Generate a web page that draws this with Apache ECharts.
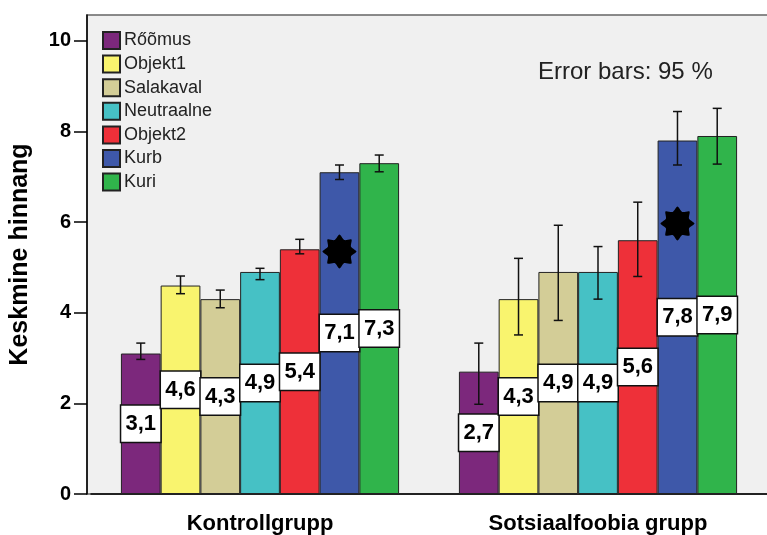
<!DOCTYPE html>
<html>
<head>
<meta charset="utf-8">
<script src="https://cdn.jsdelivr.net/npm/echarts@6/dist/echarts.min.js"></script>
<style>
  html, body { margin: 0; padding: 0; background: #ffffff; }
  #chart { width: 767px; height: 535px; }
</style>
</head>
<body>
<div id="chart"></div>
<script>
// Groups on the x axis
const groups = ['Kontrollgrupp', 'Sotsiaalfoobia grupp'];

// Emotion categories (one bar series each)
const emotions = ['Rőõmus', 'Objekt1', 'Salakaval', 'Neutraalne', 'Objekt2', 'Kurb', 'Kuri'];
const colors = ['#7c287c', '#f9f46e', '#d3cd97', '#46c1c5', '#ee3039', '#3e58a9', '#30b44b'];

// Mean rating per emotion: [Kontrollgrupp, Sotsiaalfoobia grupp]
const meanRoomus     = [3.1, 2.7];
const meanObjekt1    = [4.6, 4.3];
const meanSalakaval  = [4.3, 4.9];
const meanNeutraalne = [4.9, 4.9];
const meanObjekt2    = [5.4, 5.6];
const meanKurb       = [7.1, 7.8];
const meanKuri       = [7.3, 7.9];
const means = [meanRoomus, meanObjekt1, meanSalakaval, meanNeutraalne, meanObjekt2, meanKurb, meanKuri];

// 95 % confidence interval bounds: [low, high] per group
const ciRoomus     = [[2.97, 3.33], [1.98, 3.33]];
const ciObjekt1    = [[4.42, 4.81], [3.51, 5.20]];
const ciSalakaval  = [[4.11, 4.50], [3.83, 5.93]];
const ciNeutraalne = [[4.73, 4.98], [4.30, 5.46]];
const ciObjekt2    = [[5.30, 5.62], [4.80, 6.44]];
const ciKurb       = [[6.94, 7.26], [7.26, 8.44]];
const ciKuri       = [[7.11, 7.48], [7.28, 8.51]];
const cis = [ciRoomus, ciObjekt1, ciSalakaval, ciNeutraalne, ciObjekt2, ciKurb, ciKuri];

// Star markers on the Kurb bars: [group index, emotion index, value]
const starMarks = [[0, 5, 5.35], [1, 5, 5.97]];

// Y axis tick labels
const yTicks = [0, 2, 4, 6, 8, 10];

const SANS = "'Liberation Sans', Arial, sans-serif";
const CATEGORY_GAP = 0.177;

const chart = echarts.init(document.getElementById('chart'), null, { renderer: 'canvas' });

// Horizontal centre of bar k inside its category band
function barCenterX(api, cat, k) {
  const band = api.size([1, 0])[0];
  const groupW = band * (1 - CATEGORY_GAP);
  const w = groupW / emotions.length;
  return api.coord([cat, 0])[0] - groupW / 2 + w * (k + 0.5);
}

const errorData = [];
cis.forEach((ci, k) => ci.forEach((b, g) => errorData.push([g, k, b[0], b[1]])));

function starPoints(cx, cy, rOut, rIn, n) {
  const pts = [];
  for (let i = 0; i < n * 2; i++) {
    const r = i % 2 === 0 ? rOut : rIn;
    const a = -Math.PI / 2 + i * Math.PI / n;
    pts.push([cx + r * Math.cos(a), cy + r * Math.sin(a)]);
  }
  return pts;
}

const barSeries = emotions.map((name, k) => ({
  name: name,
  type: 'bar',
  data: means[k],
  barGap: '0%',
  barCategoryGap: (CATEGORY_GAP * 100) + '%',
  itemStyle: { color: colors[k], borderColor: '#222', borderWidth: 1 },
  label: {
    show: true,
    position: 'inside',
    formatter: p => p.value.toFixed(1).replace('.', ','),
    fontFamily: SANS,
    fontWeight: 'bold',
    fontSize: 22,
    lineHeight: 22,
    color: '#000',
    backgroundColor: '#fff',
    borderColor: '#111',
    borderWidth: 1.5,
    padding: [7, 2],
    width: 35,
    align: 'center'
  },
  emphasis: { disabled: true }
}));

const option = {
  animation: false,
  backgroundColor: '#ffffff',
  graphic: [{
    type: 'rect',
    z: -10,
    silent: true,
    shape: { x: 87, y: 15, width: 700, height: 479 },
    style: { fill: '#f0f0f0', stroke: '#666', lineWidth: 1.5 }
  }],
  title: {
    text: 'Error bars: 95 %',
    left: 533,
    top: 55,
    textStyle: { fontFamily: SANS, fontWeight: 'normal', fontSize: 24, color: '#222' }
  },
  legend: {
    orient: 'vertical',
    left: 97,
    top: 26,
    itemWidth: 17,
    itemHeight: 17,
    itemGap: 4.6,
    icon: 'rect',
    selectedMode: false,
    data: emotions,
    textStyle: { fontFamily: SANS, fontSize: 18, color: '#222', padding: [0, 0, 0, -1] }
  },
  grid: { left: 91, top: 15, bottom: 41, width: 684, containLabel: false },
  xAxis: {
    type: 'category',
    data: groups,
    axisLine: { lineStyle: { color: '#000', width: 1.5 } },
    axisTick: { alignWithLabel: true, length: 8, lineStyle: { color: '#000', width: 1.5 } },
    axisLabel: { interval: 0, fontFamily: SANS, fontWeight: 'bold', fontSize: 22, color: '#000', margin: 19 }
  },
  yAxis: {
    type: 'value',
    min: 0,
    max: 10.57,
    interval: 2,
    offset: 4,
    name: 'Keskmine hinnang',
    nameLocation: 'middle',
    nameRotate: 90,
    nameGap: 54,
    nameTextStyle: { fontFamily: SANS, fontWeight: 'bold', fontSize: 25, color: '#000' },
    splitLine: { show: false },
    axisLine: { show: true, lineStyle: { color: '#000', width: 1.5 } },
    axisTick: { show: true, length: 13, customValues: yTicks, lineStyle: { color: '#000', width: 1.5 } },
    axisLabel: {
      customValues: yTicks,
      fontFamily: SANS, fontWeight: 'bold', fontSize: 20, color: '#000', margin: 16,
      formatter: v => String(v)
    }
  },
  series: barSeries.concat([
    {
      type: 'custom',
      name: 'ci',
      z: 5,
      silent: true,
      data: errorData,
      encode: { x: 0, y: [2, 3] },
      renderItem: (params, api) => {
        const cat = api.value(0), k = api.value(1);
        const x = barCenterX(api, cat, k);
        const yLo = api.coord([cat, api.value(2)])[1];
        const yHi = api.coord([cat, api.value(3)])[1];
        const cap = 4.5;
        const style = { stroke: '#111', lineWidth: 1.5 };
        return {
          type: 'group',
          children: [
            { type: 'line', shape: { x1: x, y1: yLo, x2: x, y2: yHi }, style },
            { type: 'line', shape: { x1: x - cap, y1: yLo, x2: x + cap, y2: yLo }, style },
            { type: 'line', shape: { x1: x - cap, y1: yHi, x2: x + cap, y2: yHi }, style }
          ]
        };
      }
    },
    {
      type: 'custom',
      name: 'star',
      z: 6,
      silent: true,
      data: starMarks,
      encode: { x: 0, y: 2 },
      renderItem: (params, api) => {
        const cat = api.value(0), k = api.value(1);
        const x = barCenterX(api, cat, k);
        const y = api.coord([cat, api.value(2)])[1];
        return {
          type: 'polygon',
          shape: { points: starPoints(x, y, 17, 12.5, 8), smooth: 0.25 },
          style: { fill: '#000' }
        };
      }
    }
  ])
};

chart.setOption(option);
</script>
</body>
</html>
